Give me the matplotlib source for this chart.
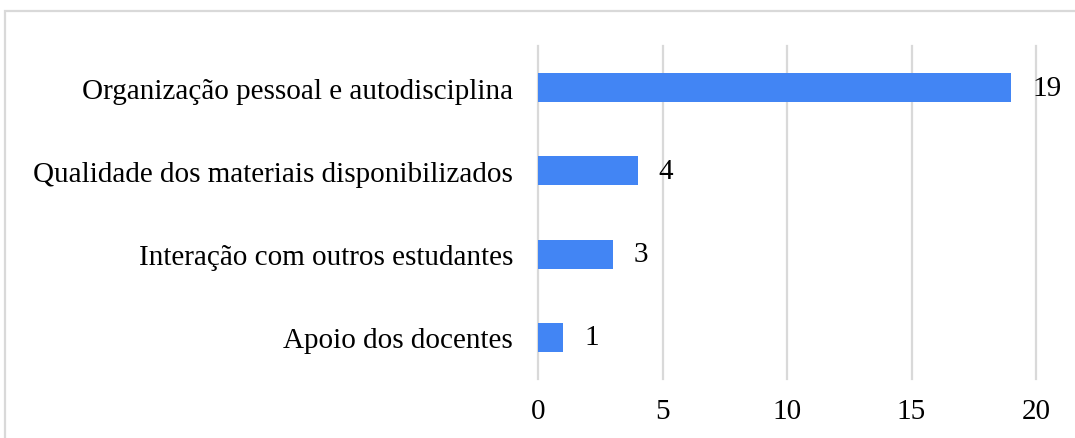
import matplotlib
matplotlib.use("Agg")
import matplotlib.pyplot as plt
from matplotlib.patches import Rectangle

# data
categories = [
    "Organização pessoal e autodisciplina",
    "Qualidade dos materiais disponibilizados",
    "Interação com outros estudantes",
    "Apoio dos docentes",
]
values = [19, 4, 3, 1]
x_ticks = [0, 5, 10, 15, 20]

W, H = 1075, 439
FS = 21
plt.rcParams["font.family"] = ["Liberation Serif", "DejaVu Serif"]

fig = plt.figure(figsize=(W / 100, H / 100), dpi=100)
ax = fig.add_axes([538 / W, 1 - 380 / H, (1036 - 538) / W, (380 - 47) / H])

pos = list(range(len(categories)))
ax.barh(pos, values, height=0.35, color="#4285F4", zorder=3)
for p, v in zip(pos, values):
    ax.text(v + 0.85, p, str(v), va="center", ha="left", fontsize=FS)

ax.set_xlim(0, 20)
ax.set_ylim(len(categories) - 0.5, -0.5)
ax.set_xticks(x_ticks)
ax.set_yticks(pos)
ax.set_yticklabels(categories)
ax.tick_params(axis="both", length=0, labelsize=FS)
ax.tick_params(axis="y", pad=18)
ax.tick_params(axis="x", pad=14)
ax.grid(axis="x", color="#d9d9d9", linewidth=1.6, zorder=0)
for gl in ax.xaxis.get_gridlines():
    gl.set_clip_on(False)
for s in ax.spines.values():
    s.set_visible(False)

# outer chart frame (right edge is cut off in the source)
fig.patches.append(
    Rectangle((5 / W, -0.05), 1.1, 1 - 12 / H + 0.05, transform=fig.transFigure,
              fill=False, edgecolor="#d9d9d9", linewidth=1.6, clip_on=False)
)

fig.savefig("out.png", dpi=100)
